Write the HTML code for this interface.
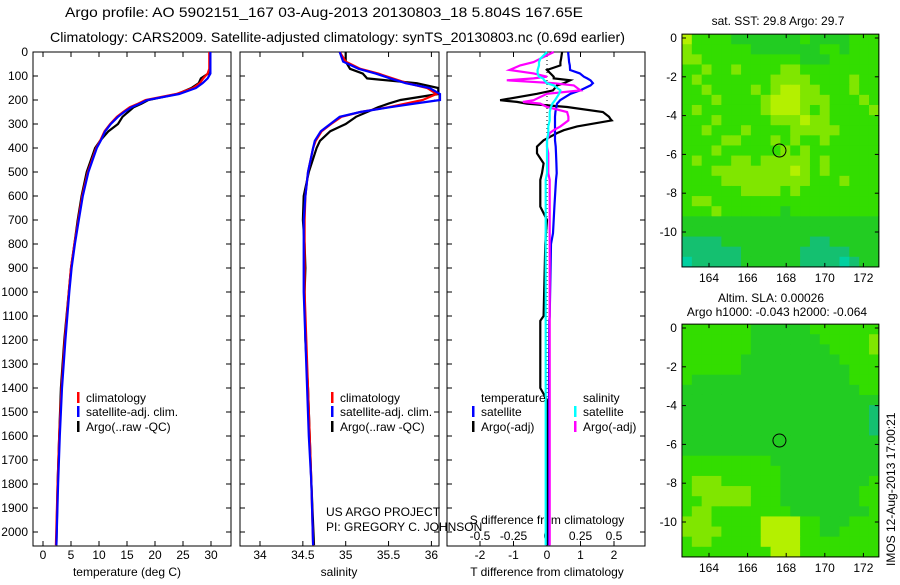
<!DOCTYPE html>
<html><head><meta charset="utf-8"><style>
body{margin:0;background:#fff;width:900px;height:580px;overflow:hidden}
svg{font-family:"Liberation Sans",sans-serif;font-size:12px}
</style></head><body>
<svg id="c" width="900" height="580" xmlns="http://www.w3.org/2000/svg">
<text x="65" y="17" font-size="14" textLength="518" lengthAdjust="spacingAndGlyphs">Argo profile: AO 5902151_167 03-Aug-2013 20130803_18 5.804S 167.65E</text>
<text x="50" y="42" font-size="14" textLength="575" lengthAdjust="spacingAndGlyphs">Climatology: CARS2009. Satellite-adjusted climatology: synTS_20130803.nc (0.69d earlier)</text>
<text x="127" y="576" text-anchor="middle">temperature (deg C)</text>
<text x="339" y="576" text-anchor="middle">salinity</text>
<text x="547" y="576" text-anchor="middle">T difference from climatology</text>
<text x="547" y="524" text-anchor="middle">S difference from climatology</text>
<text x="326" y="516">US ARGO PROJECT</text>
<text x="326" y="531">PI: GREGORY C. JOHNSON</text>
<text x="778" y="25" text-anchor="middle">sat. SST: 29.8 Argo: 29.7</text>
<text x="771" y="302" text-anchor="middle">Altim. SLA: 0.00026</text>
<text x="777" y="316" text-anchor="middle">Argo h1000: -0.043 h2000: -0.064</text>
<text transform="translate(895,566) rotate(-90)">IMOS 12-Aug-2013 17:00:21</text>
<g id="g"></g>
</svg>
<script>
const depth=[0,40,70,90,110,130,150,175,200,215,230,250,270,300,330,370,400,500,600,700,800,900,1000,1200,1400,1600,1800,2055];
const tClim=[29.7,29.7,29.7,29.4,28.6,28.0,26.8,23.8,18.3,17.0,15.5,14.3,13.2,12.0,11.0,10.2,9.5,8.0,7.0,6.3,5.6,5.0,4.6,3.9,3.3,2.9,2.6,2.3];
const tSat=[29.9,29.9,29.9,29.9,29.4,28.5,27.3,24.3,18.6,17.3,15.8,14.5,13.4,12.1,11.1,10.3,9.6,8.1,7.1,6.4,5.7,5.1,4.7,4.0,3.4,3.0,2.7,2.4];
const tArgo=[29.8,29.8,29.8,29.5,28.2,27.8,26.5,24.0,18.8,17.6,16.2,15.2,14.2,13.4,11.7,10.2,9.3,7.8,6.9,6.2,5.6,5.0,4.6,3.8,3.2,2.9,2.6,2.4];
const sClim=[34.93,35.0,35.17,35.38,35.55,35.72,35.95,36.06,35.9,35.7,35.5,35.17,34.95,34.83,34.72,34.65,34.62,34.56,34.53,34.52,34.52,34.52,34.52,34.54,34.56,34.58,34.6,34.62];
const sSat=[34.93,34.97,35.15,35.35,35.52,35.70,35.98,36.1,36.1,35.8,35.52,35.17,34.93,34.82,34.71,34.64,34.62,34.56,34.53,34.51,34.51,34.51,34.51,34.53,34.55,34.57,34.6,34.62];
const sArgo=[35.0,35.0,35.05,35.2,35.25,35.83,36.08,36.08,35.64,35.5,35.38,35.25,35.12,35.0,34.82,34.7,34.66,34.57,34.51,34.50,34.52,34.53,34.52,34.53,34.56,34.58,34.6,34.63];
const dDepth=[0,28,42,56,75,89,103,110,118,130,139,160,174,201,208,215,229,250,270,280,285,310,326,338,368,394,422,464,505,533,644,700,755,800,1100,1120,1400,1450,2055];
const dTsat=[0.63,0.65,0.66,0.68,0.69,0.98,1.1,1.2,1.3,1.37,1.3,0.99,0.7,0.39,0.35,0.3,0.28,0.25,0.24,0.24,0.24,0.24,0.24,0.24,0.24,0.26,0.27,0.28,0.29,0.27,0.22,0.2,0.18,0.12,0.08,0.07,0.06,0.06,0.06];
const dTargo=[0.45,0.42,0.4,0.4,0.0,0.1,0.2,0.2,0.69,0.5,0.3,0.18,-0.3,-1.4,-0.9,-0.6,0.6,1.67,1.85,1.9,1.93,0.9,0.5,0.3,-0.1,-0.3,-0.3,-0.1,-0.15,-0.2,-0.2,0.0,-0.03,-0.05,-0.1,-0.2,-0.2,0.0,0.0];
const dSargo=[0.05,-0.05,-0.1,-0.2,-0.28,-0.1,0.0,-0.1,-0.3,0.05,0.2,0.25,0.0,-0.1,-0.18,-0.05,0.0,0.15,0.16,0.16,0.16,0.1,0.05,0.02,0.0,0.0,0.01,0.01,0.01,0.02,0.02,0.02,0.02,0.02,0.02,0.02,0.02,0.02,0.02];
const dSsat=[0.0,-0.05,-0.06,-0.06,-0.07,-0.07,-0.06,-0.03,-0.02,0.0,0.05,0.1,0.09,0.06,0.05,0.04,0.03,0.02,0.02,0.02,0.02,0.01,0.01,0.01,0.0,0.0,0.0,0.0,0.0,-0.01,-0.01,-0.01,-0.01,-0.01,-0.01,-0.01,-0.01,-0.01,-0.01];
const depthTicks=[0,100,200,300,400,500,600,700,800,900,1000,1100,1200,1300,1400,1500,1600,1700,1800,1900,2000];
const tTicks=[0,5,10,15,20,25,30];
const sTicks=[34,34.5,35,35.5,36];
const sTickLabels=["34","34.5","35","35.5","36"];
const dtTicks=[-2,-1,0,1,2];
const dsTicks=[-0.5,-0.25,0,0.25,0.5];
const dsTickLabels=["-0.5","-0.25","0","0.25","0.5"];
const lonTicks=[164,166,168,170,172];
const latTicks=[0,-2,-4,-6,-8,-10];
const sstGrid=["53333222222232222333","43333332222222332333","44333333333322233333","33433433334433333333","34333333344443333433","33433334345544333433","33343333455544433343","34333333455543433334","33343333344454433333","33433343333444443333","33334433343433433333","33343333334343333333","34333443444443433333","33344444444543433333","33334444444443334333","33333344443433333333","34433333333333333333","33343333332333333333","22222222222222222222","22222222222222222222","11112222222221122222","11111122222211111222","01111122222211110122"];
const slaGrid=["33333332222223333333","33333332222222333334","33333332222222233334","33333322222222223333","33333322222222222333","32222222222222222333","22222222222222222233","22222222222222222222","22222222222222222221","22222222222222222221","22222222222222222221","22222222222222222222","22222222222222222222","33333333322222222222","33333333332222222222","34443333332222222223","34444443332222222233","33444443332222222233","34433333333222222223","44433333555533222333","44443333555533223333","34433333555533333333","33333333355533333333"];
const floatLon=167.65, floatLat=-5.8;

const NS='http://www.w3.org/2000/svg';
const G=document.getElementById('g');
function el(t,a,p){const e=document.createElementNS(NS,t);for(const k in a)e.setAttribute(k,a[k]);(p||G).appendChild(e);return e;}
const Y=d=>52+d*0.24;
const xT=t=>43+t*5.6;
const xS=s=>260+(s-34)*85.7;
const xDT=t=>547+t*33.5;
const xDS=s=>547+s*134;
function line(xs,ys,fx,col,name){
  const pts=xs.map((v,i)=>fx(v).toFixed(1)+','+Y(ys[i]).toFixed(1)).join(' ');
  const e=el('polyline',{points:pts,fill:'none',stroke:col,'stroke-width':2.2});
  
  
}
function frame(x0,x1,name){
  const r=el('rect',{x:x0,y:52,width:x1-x0,height:494,fill:'none',stroke:'#000','stroke-width':1});
  
  
  depthTicks.forEach(d=>{el('line',{x1:x0,x2:x0+5,y1:Y(d),y2:Y(d),stroke:'#000'});el('line',{x1:x1-5,x2:x1,y1:Y(d),y2:Y(d),stroke:'#000'});});
}
frame(33,231,'temperature-panel');
depthTicks.forEach(d=>{const t=el('text',{x:28,y:Y(d)+4,'text-anchor':'end'});t.textContent=d;

});
tTicks.forEach(v=>{const x=xT(v);el('line',{x1:x,x2:x,y1:546,y2:541,stroke:'#000'});el('line',{x1:x,x2:x,y1:52,y2:57,stroke:'#000'});
const t=el('text',{x:x,y:559,'text-anchor':'middle'});t.textContent=v;

});
line(tArgo,depth,xT,'#000','temperature-argo-line');
line(tClim,depth,xT,'#f00','temperature-climatology-line');
line(tSat,depth,xT,'#00f','temperature-satellite-line');
frame(240,439,'salinity-panel');
sTicks.forEach((v,i)=>{const x=xS(v);el('line',{x1:x,x2:x,y1:546,y2:541,stroke:'#000'});el('line',{x1:x,x2:x,y1:52,y2:57,stroke:'#000'});
const t=el('text',{x:x,y:559,'text-anchor':'middle'});t.textContent=sTickLabels[i];

});
line(sArgo,depth,xS,'#000','salinity-argo-line');
line(sClim,depth,xS,'#f00','salinity-climatology-line');
line(sSat,depth,xS,'#00f','salinity-satellite-line');
function leg(x,y,col,txt,name){el('rect',{x:x,y:y-10,width:2.5,height:11,fill:col});const t=el('text',{x:x+9,y:y});t.textContent=txt;

}
[[77,'temperature'],[331,'salinity']].forEach(([lx,p])=>{
leg(lx,402,'#f00','climatology',p+'-legend-climatology');
leg(lx,416,'#00f','satellite-adj. clim.',p+'-legend-satellite');
leg(lx,431,'#000','Argo(..raw -QC)',p+'-legend-argo');});
frame(447,645,'difference-panel');
el('line',{x1:547,x2:547,y1:52,y2:546,stroke:'#000','stroke-dasharray':'1,3'});
dtTicks.forEach(v=>{const x=xDT(v);el('line',{x1:x,x2:x,y1:546,y2:541,stroke:'#000'});el('line',{x1:x,x2:x,y1:52,y2:57,stroke:'#000'});
const t=el('text',{x:x,y:559,'text-anchor':'middle'});t.textContent=v;

});
dsTicks.forEach((v,i)=>{const t=el('text',{x:xDS(v),y:540,'text-anchor':'middle'});t.textContent=dsTickLabels[i];

});
line(dTargo,dDepth,xDT,'#000','t-diff-argo-line');
line(dTsat,dDepth,xDT,'#00f','t-diff-satellite-line');
line(dSargo,dDepth,xDS,'#f0f','s-diff-argo-line');
line(dSsat,dDepth,xDS,'#0ff','s-diff-satellite-line');
{const t=el('text',{x:481,y:402});t.textContent='temperature';
const s=el('text',{x:583,y:402});s.textContent='salinity';}
leg(472,416,'#00f','satellite','diff-legend-t-satellite');
leg(472,431,'#000','Argo(-adj)','diff-legend-t-argo');
leg(574,416,'#0ff','satellite','diff-legend-s-satellite');
leg(574,431,'#f0f','Argo(-adj)','diff-legend-s-argo');
const pal=['#00d0a0','#14c070','#22cc22','#33dd00','#80e600','#b4f000'];
function map(top,grid,name){
  const lx=l=>709+(l-164)*19.3, ly=a=>top+(-a)*19.4;
  const x0=lx(162.6),x1=lx(172.8),y0=ly(0.2),y1=ly(-11.8);
  const g=el('g',{});
  
  
  const rows=grid.length,cols=grid[0].length,cw=(x1-x0)/cols,ch=(y1-y0)/rows;
  grid.forEach((r,i)=>{for(let j=0;j<cols;j++){const c=el('rect',{x:x0+j*cw,y:y0+i*ch,width:cw+0.5,height:ch+0.5,fill:pal[+r[j]]},g);
  
  }});
  el('rect',{x:x0,y:y0,width:x1-x0,height:y1-y0,fill:'none',stroke:'#000'});
  const c=el('circle',{cx:lx(floatLon),cy:ly(floatLat),r:6.5,fill:'none',stroke:'#000'});
  
  
  lonTicks.forEach(v=>{const x=lx(v);el('line',{x1:x,x2:x,y1:y1,y2:y1-4,stroke:'#000'});el('line',{x1:x,x2:x,y1:y0,y2:y0+4,stroke:'#000'});
  const t=el('text',{x:x,y:y1+15,'text-anchor':'middle'});t.textContent=v;
  
  });
  latTicks.forEach(v=>{const y=ly(v);el('line',{x1:x0,x2:x0+4,y1:y,y2:y,stroke:'#000'});el('line',{x1:x1-4,x2:x1,y1:y,y2:y,stroke:'#000'});
  const t=el('text',{x:x0-5,y:y+4,'text-anchor':'end'});t.textContent=v;
  
  });
}
map(38,sstGrid,'sst-map');
map(328,slaGrid,'sla-map');
</script>
</body></html>
